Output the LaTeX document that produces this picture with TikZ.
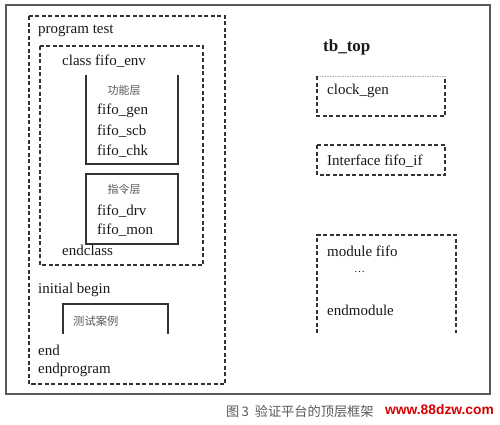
\documentclass[tikz,border=0pt]{standalone}
\usepackage{fontspec}
\setmainfont{Liberation Serif}
\newfontfamily\cjk{Noto Sans CJK SC}
\newfontfamily\wmfont{Liberation Sans}
\begin{document}
\begin{tikzpicture}[x=1pt,y=-1pt,
  dbox/.style={draw=black!80,line width=1.1pt,dash pattern=on 4pt off 2.5pt},
  sbox/.style={draw=black!80,line width=1.1pt},
  code/.style={anchor=west,inner sep=0pt,font=\fontsize{15}{18}\selectfont,text=black!90},
  cn/.style={inner sep=0pt,font=\cjk\fontsize{11}{12}\selectfont,text=black!65}]
\useasboundingbox (0,0) rectangle (500,424);
\fill[white] (0,0) rectangle (500,424);
% outer frame
\draw[black!65,line width=1.6pt] (6,5) rectangle (490,394);
% program test box
\draw[dbox] (29,16) rectangle (225,384);
% class box
\draw[dbox] (40,46) rectangle (203,265);
% functional layer box (no top edge)
\draw[sbox] (86,75) -- (86,164) -- (178,164) -- (178,75);
% instruction layer box
\draw[sbox] (86,174) rectangle (178,244);
% test case box (no bottom edge)
\draw[sbox] (63,334) -- (63,304) -- (168,304) -- (168,334);
% right side boxes
\draw[black!30,line width=0.8pt,dash pattern=on 1.5pt off 1pt] (317,76) -- (445,76);
\draw[dbox] (317,76) -- (317,116) -- (445,116) -- (445,76);
\draw[dbox] (317,145) -- (317,175) -- (445,175) -- (445,145);
\draw[dbox] (317,145) -- (445,145);
\draw[dbox] (317,333) -- (317,235) -- (456,235) -- (456,333);
% texts
\node[code] (pt) at (38,31) {program test};
\node[code] (cf) at (62,61) {class fifo\_env};
\node[cn] (gn) at (124,90) {功能层};
\node[code] (fg) at (97,111) {fifo\_gen};
\node[code] (fs) at (97,131) {fifo\_scb};
\node[code] (fc) at (97,151) {fifo\_chk};
\node[cn] (zl) at (124,189) {指令层};
\node[code] (fd) at (97,211) {fifo\_drv};
\node[code] (fm) at (97,230) {fifo\_mon};
\node[code] (ec) at (62,250) {endclass};
\node[code] (ib) at (38,290) {initial begin};
\node[cn,anchor=west,font=\cjk\fontsize{11.3}{12}\selectfont] (cs) at (73,321) {测试案例};
\node[code] (en) at (38,350) {end};
\node[code] (ep) at (38,370) {endprogram};
\node[code,font=\bfseries\fontsize{17}{20}\selectfont] (tb) at (323,47) {tb\_top};
\node[code] (cg) at (327,91) {clock\_gen};
\node[code] (ifc) at (327,161) {Interface fifo\_if};
\node[code] (mf) at (327,251) {module fifo};
\node[code,font=\fontsize{11}{12}\selectfont] (dots) at (354,272) {\dots};
\node[code] (em) at (327,310) {endmodule};
% caption
\node[anchor=west,inner sep=0pt,font=\cjk\fontsize{13.2}{15}\selectfont,text=black!65] (cap) at (226,411) {图\,3\ \ 验证平台的顶层框架};
\node[anchor=west,inner sep=0pt,font=\wmfont\bfseries\fontsize{13.8}{16}\selectfont,text=red!85!black] (wm) at (385,410) {www.88dzw.com};
\end{tikzpicture}
\end{document}
